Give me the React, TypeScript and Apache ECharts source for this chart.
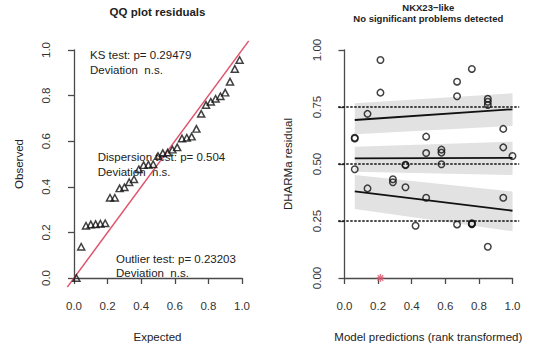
import React, { useEffect, useRef } from "react";
import * as echarts from "echarts";

// Rank-transformed model predictions and scaled (DHARMa) residuals
const predRank = [
  0.061, 0.061, 0.061, 0.137, 0.137, 0.214, 0.214, 0.214, 0.288, 0.288,
  0.363, 0.363, 0.363, 0.423, 0.486, 0.486, 0.486, 0.577, 0.577, 0.577,
  0.67, 0.67, 0.67, 0.758, 0.758, 0.758, 0.758, 0.853, 0.853, 0.853,
  0.853, 0.945, 0.945, 0.945, 1.0,
];
const residuals = [
  0.615, 0.612, 0.477, 0.72, 0.393, 0.956, 0.813, 0.0, 0.433, 0.42,
  0.497, 0.495, 0.398, 0.229, 0.62, 0.548, 0.352, 0.563, 0.55, 0.499,
  0.861, 0.797, 0.235, 0.917, 0.24, 0.238, 0.236, 0.786, 0.773, 0.759,
  0.137, 0.654, 0.573, 0.352, 0.535,
];

// Quantile regression fits (ends of each line) with confidence bands
const quantiles = [0.25, 0.5, 0.75];
const fitStart = [0.38, 0.525, 0.693];
const fitEnd = [0.295, 0.527, 0.74];
const bandLowStart = [0.303, 0.466, 0.63];
const bandHighStart = [0.452, 0.576, 0.766];
const bandLowEnd = [0.205, 0.452, 0.667];
const bandHighEnd = [0.379, 0.598, 0.81];

const unitTicks = [0, 0.2, 0.4, 0.6, 0.8, 1.0];
const residualTicks = [0, 0.25, 0.5, 0.75, 1.0];

const FONT = "'Liberation Sans', Arial, Helvetica, sans-serif";
const INK = "#222";
const RED = "#DF536B";

// panel geometry: unit square box and the padded plot region around it
const UNIT = { w: 168, h: 228, top: 50 };
const PAD_X = 0.04 * UNIT.w;
const PAD_Y = 0.04 * UNIT.h;
const LEFT_X0 = 74;
const RIGHT_X0 = 344.5;

export default function App() {
  const ref = useRef<HTMLDivElement>(null);

  useEffect(() => {
    if (!ref.current) return;
    const chart = echarts.init(ref.current, null, { renderer: "svg" });

    const n = residuals.length;
    const sorted = [...residuals].sort((a, b) => a - b);
    const qqData = sorted.map((v, i) => [(i + 0.5) / n, v]);

    const isOutlier = (v: number) => v <= 0 || v >= 1;
    const normalPts: number[][] = [];
    const outlierPts: number[][] = [];
    residuals.forEach((v, i) => {
      (isOutlier(v) ? outlierPts : normalPts).push([predRank[i], v]);
    });

    const xMin = Math.min(...predRank);
    const xMax = Math.max(...predRank);
    const bandData = quantiles.map((_, k) => [
      xMin, bandLowStart[k], bandHighStart[k], xMax, bandLowEnd[k], bandHighEnd[k],
    ]);

    const dataGrid = (x0: number) => ({
      left: x0 - PAD_X,
      top: UNIT.top - PAD_Y,
      width: UNIT.w + 2 * PAD_X,
      height: UNIT.h + 2 * PAD_Y,
    });
    const axisGrid = (x0: number) => ({
      left: x0,
      top: UNIT.top,
      width: UNIT.w,
      height: UNIT.h,
    });

    const hiddenAxis = (gridIndex: number) => ({
      type: "value",
      gridIndex,
      min: -0.04,
      max: 1.04,
      show: false,
    });

    const axisLineStyle = { lineStyle: { color: "#4a4a4a", width: 1.3 } };
    const xVisible = (gridIndex: number) => ({
      type: "value",
      gridIndex,
      min: 0,
      max: 1,
      interval: 0.2,
      offset: PAD_Y,
      axisLine: { show: true, ...axisLineStyle },
      axisTick: { show: true, length: 6, ...axisLineStyle },
      splitLine: { show: false },
      axisLabel: {
        margin: 13,
        fontFamily: FONT,
        fontSize: 11.5,
        color: "#333",
        formatter: (v: number) => v.toFixed(1),
        customValues: unitTicks,
      },
    });
    const yVisible = (gridIndex: number, step: number, digits: number, ticks: number[]) => ({
      type: "value",
      gridIndex,
      min: 0,
      max: 1,
      interval: step,
      offset: PAD_X,
      axisLine: { show: true, ...axisLineStyle },
      axisTick: { show: true, length: 6, ...axisLineStyle },
      splitLine: { show: false },
      axisLabel: {
        rotate: 90,
        margin: 15,
        fontFamily: FONT,
        fontSize: 11.5,
        color: "#333",
        formatter: (v: number) => v.toFixed(digits),
        customValues: ticks,
      },
    });

    const text = (
      x: number,
      y: number,
      s: string,
      opts: { size?: number; bold?: boolean; align?: string; rot?: boolean } = {}
    ) => ({
      type: "text",
      x,
      y,
      rotation: opts.rot ? Math.PI / 2 : 0,
      style: {
        text: s,
        fill: INK,
        font: `${opts.bold ? "bold " : ""}${opts.size ?? 11.5}px ${FONT}`,
        textAlign: opts.align ?? "center",
        textVerticalAlign: "middle",
      },
    });

    const option: any = {
      animation: false,
      backgroundColor: "#fff",
      grid: [
        dataGrid(LEFT_X0),
        axisGrid(LEFT_X0),
        dataGrid(RIGHT_X0),
        axisGrid(RIGHT_X0),
      ],
      xAxis: [hiddenAxis(0), xVisible(1), hiddenAxis(2), xVisible(3)],
      yAxis: [
        hiddenAxis(0),
        yVisible(1, 0.2, 1, unitTicks),
        hiddenAxis(2),
        yVisible(3, 0.25, 2, residualTicks),
      ],
      graphic: [
        text(157.5, 12.3, "QQ plot residuals", { bold: true }),
        text(157.5, 336.7, "Expected"),
        text(18.5, 164, "Observed", { rot: true }),
        text(90, 54.7, "KS test: p= 0.29479", { align: "left" }),
        text(90, 69.8, "Deviation  n.s.", { align: "left" }),
        text(97.7, 156.7, "Dispersion test: p= 0.504", { align: "left" }),
        text(97.7, 171.8, "Deviation  n.s.", { align: "left" }),
        text(116, 258.8, "Outlier test: p= 0.23203", { align: "left" }),
        text(116, 273.2, "Deviation  n.s.", { align: "left" }),
        text(428.3, 7.7, "NKX23\u2212like", { bold: true, size: 9.5 }),
        text(428.3, 18.3, "No significant problems detected", { bold: true, size: 9.5 }),
        text(428.3, 337, "Model predictions (rank transformed)"),
        text(288, 164, "DHARMa residual", { rot: true }),
      ],
      series: [
        // QQ panel
        {
          type: "line",
          xAxisIndex: 0,
          yAxisIndex: 0,
          data: [
            [-0.04, -0.04],
            [1.04, 1.04],
          ],
          symbol: "none",
          lineStyle: { color: RED, width: 1.5 },
          z: 2,
        },
        {
          type: "scatter",
          xAxisIndex: 0,
          yAxisIndex: 0,
          data: qqData,
          symbol: "triangle",
          symbolSize: [7, 6.5],
          itemStyle: { color: "rgba(0,0,0,0)", borderColor: "#111", borderWidth: 1.5 },
          z: 3,
        },
        // residual vs predicted panel
        {
          type: "custom",
          xAxisIndex: 2,
          yAxisIndex: 2,
          data: bandData,
          encode: { x: [0, 3], y: [1, 2, 4, 5] },
          renderItem: (_p: any, api: any) => {
            const a = api.coord([api.value(0), api.value(1)]);
            const b = api.coord([api.value(0), api.value(2)]);
            const c = api.coord([api.value(3), api.value(5)]);
            const d = api.coord([api.value(3), api.value(4)]);
            return {
              type: "polygon",
              shape: { points: [a, b, c, d] },
              style: { fill: "#e2e2e2" },
            };
          },
          z: 1,
        },
        ...quantiles.map((q) => ({
          type: "line",
          xAxisIndex: 2,
          yAxisIndex: 2,
          data: [
            [-0.085, q],
            [1.04, q],
          ],
          clip: false,
          symbol: "none",
          lineStyle: { color: "#111", width: 1.3, type: [2.5, 1.5] },
          z: 2,
        })),
        ...quantiles.map((_, k) => ({
          type: "line",
          xAxisIndex: 2,
          yAxisIndex: 2,
          data: [
            [xMin, fitStart[k]],
            [xMax, fitEnd[k]],
          ],
          symbol: "none",
          lineStyle: { color: "#111", width: 1.8 },
          z: 3,
        })),
        {
          type: "scatter",
          xAxisIndex: 2,
          yAxisIndex: 2,
          data: normalPts,
          symbol: "circle",
          symbolSize: 6.5,
          itemStyle: { color: "rgba(0,0,0,0)", borderColor: "#111", borderWidth: 1.5 },
          z: 4,
        },
        {
          type: "scatter",
          xAxisIndex: 2,
          yAxisIndex: 2,
          data: outlierPts,
          symbol: "path://M5,0L5,10M0,5L10,5M1.5,1.5L8.5,8.5M1.5,8.5L8.5,1.5",
          symbolSize: 8,
          itemStyle: { color: "rgba(0,0,0,0)", borderColor: RED, borderWidth: 1.4 },
          z: 4,
        },
      ],
    };

    chart.setOption(option);
    return () => chart.dispose();
  }, []);

  return (
    <div
      ref={ref}
      style={{ position: "absolute", left: 0, top: 0, width: 542, height: 348, background: "#fff" }}
    />
  );
}
